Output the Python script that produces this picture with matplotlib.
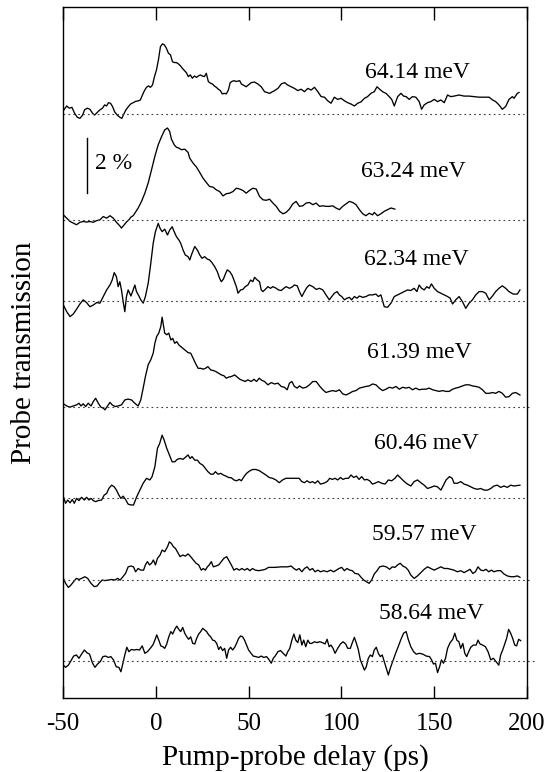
import numpy as np
import matplotlib
matplotlib.use("Agg")
import matplotlib.pyplot as plt

plt.rcParams['font.family'] = ['Liberation Serif', 'DejaVu Serif']
plt.rcParams['mathtext.fontset'] = 'stix'

# photon energies of the pump (labels of the traces)
etiquetas = ["64.14 meV", "63.24 meV", "62.34 meV", "61.39 meV",
             "60.46 meV", "59.57 meV", "58.64 meV"]

# vertical offset of every trace (in % of transmission)
offsets = [21.24, 17.38, 14.44, 10.60, 7.26, 4.29, 1.345]

# delay (ps) and change of transmission (%) for every trace
t64_x = [-49.5, -48.0, -46.6, -45.2, -43.7, -42.3, -40.9, -39.4, -38.4, -36.9, -35.5, -34.0, -33.0, -31.6,
         -30.1, -28.7, -27.6, -26.5, -25.5, -24.4, -23.3, -22.2, -20.8, -19.4, -18.3, -17.2, -16.1, -15.1,
         -13.6, -12.2, -10.8, -9.3, -8.3, -7.2, -6.1, -5.0, -4.0, -2.9, -1.8, -0.7, 0.35, 1.4, 2.5, 3.6,
         4.65, 5.7, 6.8, 7.9, 9.0, 10.0, 11.1, 12.2, 13.3, 14.3, 15.4, 16.5, 17.5, 18.6, 19.7, 20.8, 21.9,
         22.9, 24.0, 25.1, 26.2, 27.2, 28.3, 29.4, 30.5, 31.5, 32.6, 33.7, 34.8, 35.8, 36.9, 38.0, 39.1,
         40.1, 41.2, 42.3, 43.4, 45.2, 46.1, 48.7, 51.4, 53.2, 55.0, 56.8, 58.6, 61.3, 64.0, 65.8, 67.6,
         69.4, 71.1, 72.9, 74.7, 76.5, 78.3, 80.1, 81.9, 83.7, 85.5, 87.3, 89.1, 90.9, 92.6, 94.4, 96.2,
         98.0, 99.8, 101.6, 103.4, 105.2, 107.0, 108.8, 110.6, 112.4, 114.1, 115.9, 117.7, 119.2, 120.6,
         122.2, 124.0, 125.8, 127.1, 128.5, 130.3, 132.1, 133.5, 134.9, 136.5, 138.3, 140.1, 141.9, 143.2,
         144.6, 146.4, 148.2, 150.0, 151.8, 153.6, 155.4, 157.2, 158.9, 160.7, 163.4, 166.1, 168.8, 171.5,
         174.2, 176.9, 179.6, 181.4, 183.1, 184.9, 186.7, 188.5, 190.3, 192.1, 193.0, 194.8, 195.7]
t64_y = [0.15, 0.29, 0.21, 0.24, 0.02, -0.12, -0.16, -0.04, 0.15, 0.21, 0.17, 0.02, -0.04, 0.05,
         0.15, 0.21, 0.33, 0.29, 0.41, 0.39, 0.27, 0.08, -0.04, -0.12, -0.16, 0.00, 0.15, 0.24,
         0.36, 0.41, 0.46, 0.48, 0.51, 0.69, 0.85, 0.97, 1.02, 0.97, 1.05, 1.36, 1.60, 1.96, 2.45, 2.55,
         2.51, 2.39, 2.21, 2.15, 1.90, 1.87, 1.87, 1.82, 1.75, 1.66, 1.58, 1.50, 1.36, 1.42, 1.30, 1.38, 1.33,
         1.38, 1.42, 1.38, 1.36, 1.48, 1.18, 1.12, 1.09, 1.02, 0.97, 0.90, 0.85, 0.73, 0.75, 0.73, 0.87,
         1.14, 1.19, 1.21, 1.18, 1.21, 1.09, 0.99, 1.14, 1.16, 1.09, 0.99, 0.81, 0.75, 0.85, 0.93, 1.09,
         1.14, 1.05, 0.99, 0.93, 0.85, 0.90, 0.81, 0.93, 0.87, 0.97, 0.81, 0.63, 0.61, 0.48, 0.39, 0.61,
         0.53, 0.57, 0.48, 0.41, 0.36, 0.29, 0.39, 0.44, 0.57, 0.63, 0.75, 0.81, 0.99, 0.90,
         0.81, 0.75, 0.63, 0.53, 0.29, 0.63, 0.75, 0.65, 0.63, 0.53, 0.63, 0.61, 0.45, 0.17,
         0.33, 0.41, 0.45, 0.53, 0.45, 0.51, 0.41, 0.69, 0.63, 0.65, 0.69, 0.65, 0.65, 0.63,
         0.61, 0.61, 0.61, 0.51, 0.45, 0.33, 0.17, 0.27, 0.53, 0.63, 0.57, 0.75, 0.78]

t63_x = [-49.8, -48.0, -46.2, -44.4, -42.7, -40.9, -39.1, -37.3, -35.5, -33.7, -31.9, -30.1, -28.3, -26.5,
         -24.7, -22.9, -21.2, -19.4, -18.5, -17.0, -15.8, -14.5, -13.4, -12.2, -11.3, -9.5, -7.7, -5.9,
         -4.1, -2.3, -0.5, 1.3, 3.0, 4.8, 6.3, 7.5, 8.4, 9.9, 11.1, 12.4, 13.8, 15.6, 17.4, 18.3, 20.1,
         21.9, 23.7, 25.4, 27.2, 29.0, 30.8, 32.6, 34.4, 36.2, 38.0, 39.8, 41.6, 43.4, 45.2, 46.9, 48.7,
         50.5, 52.3, 54.1, 55.9, 57.7, 59.5, 61.3, 63.1, 64.9, 66.7, 68.5, 70.2, 72.0, 73.8, 75.6, 77.4,
         79.2, 81.0, 82.8, 84.6, 86.4, 88.2, 90.0, 91.7, 93.5, 95.3, 97.1, 98.9, 100.7, 102.5, 104.3,
         106.1, 107.9, 109.7, 111.5, 113.2, 115.0, 116.8, 117.7, 119.5, 121.3, 123.1, 124.9, 126.7, 128.8]
t63_y = [0.19, 0.07, -0.05, -0.11, -0.17, -0.08, -0.05, -0.07, -0.05, -0.08, -0.02, 0.01, 0.13, 0.07,
         0.16, 0.07, -0.08, -0.21, -0.29, -0.17, -0.07, 0.01, 0.11, 0.16, 0.25, 0.44, 0.68, 0.98,
         1.35, 1.83, 2.32, 2.74, 3.02, 3.28, 3.35, 3.22, 2.95, 2.74, 2.65, 2.62, 2.56, 2.58, 2.46, 2.25, 2.07,
         1.93, 1.73, 1.53, 1.37, 1.22, 1.20, 1.10, 1.04, 0.88, 0.96, 0.98, 1.04, 1.16, 1.13, 1.08, 0.98,
         1.08, 1.16, 1.13, 0.86, 0.74, 0.72, 0.76, 0.62, 0.50, 0.32, 0.23, 0.28, 0.40, 0.59, 0.68, 0.50,
         0.52, 0.62, 0.64, 0.56, 0.62, 0.50, 0.52, 0.50, 0.50, 0.52, 0.44, 0.38, 0.50, 0.59, 0.68,
         0.64, 0.56, 0.38, 0.23, 0.16, 0.25, 0.19, 0.28, 0.16, 0.23, 0.32, 0.38, 0.44, 0.40]

t62_x = [-49.8, -48.0, -46.2, -44.4, -42.7, -40.9, -39.1, -37.3, -35.5, -33.7, -31.9, -30.1, -28.3, -26.5,
         -24.7, -23.5, -22.4, -21.2, -20.3, -19.4, -18.5, -17.6, -16.7, -15.8, -14.9, -13.4, -12.2, -11.3,
         -10.4, -9.1, -8.1, -6.8, -5.6, -4.1, -2.7, -1.4, -0.2, 1.3, 2.3, 3.4, 4.8, 6.3, 7.5, 8.8, 9.9,
         11.1, 12.4, 13.4, 14.7, 15.9, 17.4, 18.3, 19.5, 21.0, 22.4, 23.7, 24.9, 26.3, 27.8, 29.0, 30.3,
         31.7, 33.1, 34.4, 35.3, 36.4, 37.5, 38.5, 39.8, 41.0, 42.1, 43.4, 44.3, 45.7, 46.9, 48.2, 49.6,
         51.1, 52.3, 53.2, 54.7, 55.9, 56.8, 57.7, 59.0, 60.4, 61.8, 63.1, 64.9, 66.1, 67.6, 69.0, 70.2,
         72.0, 73.3, 74.7, 76.2, 77.4, 78.7, 80.1, 81.5, 82.8, 84.6, 86.4, 88.2, 90.0, 91.7, 93.5, 94.8,
         96.2, 97.7, 98.9, 100.2, 101.6, 103.0, 104.3, 105.5, 107.0, 108.4, 109.7, 111.5, 113.2, 115.0,
         116.8, 118.6, 119.9, 121.3, 123.1, 124.9, 126.7, 128.5, 130.3, 132.1, 133.9, 135.6, 137.4, 139.2,
         140.7, 141.9, 143.2, 144.6, 146.0, 147.3, 148.5, 150.0, 151.8, 153.6, 155.4, 157.2, 158.6, 159.9,
         161.6, 163.4, 165.2, 167.0, 168.8, 170.6, 172.4, 174.2, 176.0, 177.8, 179.6, 181.4, 183.1, 184.9,
         186.7, 188.5, 190.3, 192.6, 194.8, 196.2]
t62_y = [-0.15, -0.39, -0.57, -0.47, -0.30, -0.11, 0.04, -0.06, -0.21, -0.15, -0.06, -0.08, 0.16, 0.40,
         0.58, 0.76, 1.03, 0.88, 0.52, 0.70, 0.40, -0.02, -0.39, 0.16, 0.40, 0.18, 0.40, 0.58,
         0.34, 0.18, 0.04, -0.08, 0.16, 0.64, 1.37, 2.10, 2.52, 2.82, 2.64, 2.52, 2.61, 2.40, 2.58, 2.70, 2.52,
         2.34, 2.22, 2.10, 1.85, 1.67, 1.61, 1.49, 1.73, 1.98, 1.85, 1.67, 1.55, 1.61, 1.52, 1.49, 1.39,
         1.25, 1.07, 0.82, 0.70, 0.79, 0.98, 1.13, 1.07, 0.95, 0.76, 0.52, 0.28, 0.40, 0.42, 0.52, 0.58,
         0.76, 0.70, 0.86, 0.76, 0.70, 0.40, 0.34, 0.42, 0.52, 0.46, 0.52, 0.46, 0.40, 0.38, 0.46, 0.52,
         0.46, 0.50, 0.58, 0.55, 0.34, 0.16, 0.34, 0.50, 0.58, 0.52, 0.42, 0.46, 0.40, 0.22, 0.04, 0.16,
         0.28, 0.34, 0.22, 0.16, 0.04, 0.10, 0.13, 0.04, 0.16, 0.10, 0.18, 0.13, 0.16, 0.22,
         0.22, 0.25, 0.16, 0.22, -0.21, -0.23, -0.08, 0.16, 0.22, 0.28, 0.34, 0.40, 0.38, 0.46,
         0.34, 0.58, 0.46, 0.40, 0.52, 0.46, 0.62, 0.46, 0.34, 0.28, 0.22, 0.16, 0.10, -0.11,
         0.04, 0.16, -0.02, -0.27, -0.08, 0.04, 0.22, 0.34, 0.34, 0.28, 0.04, 0.18, 0.34, 0.46,
         0.55, 0.46, 0.34, 0.25, 0.25, 0.40]

t61_x = [-49.8, -48.0, -46.2, -44.4, -42.7, -41.4, -40.3, -39.1, -37.8, -36.4, -34.9, -33.7, -32.4, -31.0,
         -29.6, -28.3, -27.4, -26.0, -24.7, -23.5, -22.0, -20.3, -18.5, -16.7, -14.9, -13.1, -11.3, -9.5,
         -8.1, -6.8, -5.6, -4.1, -2.7, -1.4, -0.5, 0.5, 1.6, 2.7, 3.4, 4.1, 4.8, 5.9, 7.0, 8.1, 9.1, 10.2,
         11.3, 12.4, 13.8, 15.6, 17.4, 18.8, 20.1, 21.3, 22.8, 24.2, 25.6, 26.7, 28.1, 29.6, 31.0, 32.4,
         33.9, 35.3, 36.7, 38.0, 39.2, 40.7, 42.5, 43.9, 45.3, 46.8, 48.2, 49.6, 51.4, 52.9, 54.3, 55.7,
         57.2, 58.6, 60.4, 62.2, 64.0, 65.8, 67.6, 69.3, 70.8, 72.0, 73.3, 74.7, 76.2, 77.4, 79.2, 81.0,
         82.8, 84.6, 86.4, 88.2, 90.0, 91.7, 93.5, 95.3, 97.1, 98.9, 100.7, 102.5, 104.3, 106.1, 107.9,
         109.7, 111.5, 113.2, 115.0, 116.8, 118.6, 120.4, 122.2, 124.0, 125.8, 127.6, 129.4, 131.2, 133.0,
         134.8, 136.5, 138.3, 140.1, 141.9, 143.7, 145.5, 147.3, 149.1, 150.9, 152.7, 154.5, 156.3, 158.1,
         159.9, 161.6, 163.4, 165.2, 167.0, 168.8, 170.6, 172.4, 174.2, 176.0, 177.8, 179.6, 181.4, 183.1,
         184.9, 186.7, 188.5, 190.3, 192.1, 193.9, 196.2]
t61_y = [0.10, 0.02, -0.02, 0.02, 0.06, 0.12, 0.02, 0.10, 0.00, 0.12, 0.02, 0.18, 0.30, 0.12,
         -0.02, -0.06, -0.12, 0.02, 0.15, 0.06, 0.00, 0.02, 0.06, 0.24, 0.27, 0.24, 0.12, 0.02,
         0.24, 0.67, 1.09, 1.52, 1.70, 1.94, 2.30, 2.55, 2.67, 2.91, 3.25, 2.97, 2.67, 2.61, 2.67, 2.42, 2.48, 2.30,
         2.36, 2.24, 2.16, 2.06, 1.96, 1.94, 1.76, 1.58, 1.39, 1.39, 1.36, 1.39, 1.45, 1.33, 1.31, 1.27,
         1.21, 1.15, 1.12, 1.03, 1.07, 1.09, 1.15, 1.07, 0.99, 0.95, 0.91, 0.97, 0.91, 0.99, 0.91, 1.03,
         0.95, 0.91, 0.79, 0.87, 0.82, 0.85, 0.73, 0.70, 0.61, 0.85, 0.91, 0.73, 0.67, 0.75, 0.67, 0.70,
         0.79, 0.91, 0.91, 0.75, 0.61, 0.51, 0.55, 0.58, 0.55, 0.61, 0.46, 0.42, 0.48, 0.55, 0.58,
         0.67, 0.70, 0.73, 0.75, 0.82, 0.79, 0.67, 0.58, 0.63, 0.70, 0.67, 0.73, 0.63, 0.70,
         0.67, 0.70, 0.61, 0.67, 0.61, 0.63, 0.63, 0.67, 0.61, 0.58, 0.55, 0.58, 0.55, 0.55,
         0.63, 0.67, 0.70, 0.75, 0.79, 0.79, 0.75, 0.73, 0.70, 0.61, 0.48, 0.48, 0.51, 0.48,
         0.55, 0.48, 0.34, 0.36, 0.48, 0.51, 0.42]

t60_x = [-49.8, -48.6, -47.5, -46.2, -45.0, -43.9, -42.7, -41.4, -40.0, -38.5, -37.3, -36.0, -34.9, -33.7,
         -32.4, -31.0, -29.2, -27.8, -26.5, -25.3, -23.8, -22.4, -21.2, -19.9, -18.8, -17.6, -16.3, -14.9,
         -13.4, -12.0, -10.4, -8.6, -6.8, -5.0, -3.2, -2.0, -0.5, 0.9, 2.1, 3.4, 4.5, 5.9, 7.3, 8.8, 10.2,
         11.6, 13.1, 14.7, 15.9, 17.4, 18.5, 19.5, 21.0, 22.4, 23.8, 25.3, 26.7, 28.1, 29.6, 31.0, 32.1,
         33.5, 35.0, 36.4, 37.8, 39.2, 40.7, 42.1, 43.5, 45.0, 46.1, 47.5, 48.9, 50.4, 52.1, 53.9, 55.7,
         57.5, 59.3, 61.1, 62.9, 64.7, 66.5, 68.3, 70.1, 71.9, 73.6, 75.4, 77.2, 78.7, 80.1, 81.5, 83.0,
         84.4, 85.8, 87.3, 88.7, 90.5, 92.3, 93.7, 95.1, 96.6, 98.0, 99.5, 100.9, 102.3, 103.8, 105.2,
         106.6, 108.1, 109.5, 110.9, 112.4, 113.8, 115.2, 116.7, 118.1, 119.9, 121.7, 123.5, 125.3, 127.1,
         128.8, 130.3, 132.1, 133.9, 135.6, 137.4, 139.2, 141.0, 142.8, 144.6, 146.4, 148.2, 150.0, 151.8,
         153.6, 155.0, 156.4, 158.2, 159.7, 160.7, 162.5, 164.3, 166.1, 167.9, 169.7, 171.5, 173.3, 175.1,
         176.9, 178.7, 180.5, 182.2, 184.0, 185.8, 187.6, 189.4, 191.2, 193.0, 196.2]
t60_y = [0.06, -0.18, -0.06, -0.16, -0.04, -0.18, 0.00, -0.08, 0.04, -0.06, 0.04, -0.06, 0.00, -0.08,
         -0.12, -0.08, -0.06, 0.12, 0.18, 0.36, 0.48, 0.42, 0.30, 0.12, 0.00, 0.08, -0.04, -0.21,
         -0.24, -0.24, 0.04, 0.30, 0.55, 0.73, 0.67, 0.79, 1.15, 1.82, 2.00, 2.30, 2.12, 1.82, 1.58, 1.33, 1.33,
         1.42, 1.45, 1.42, 1.49, 1.58, 1.45, 1.52, 1.39, 1.39, 1.27, 1.21, 1.09, 0.97, 0.88, 0.88, 0.97,
         0.88, 0.91, 0.85, 0.81, 0.76, 0.75, 0.67, 0.64, 0.69, 0.64, 0.79, 0.91, 0.99, 1.05, 1.05, 1.01,
         0.93, 0.85, 0.76, 0.73, 0.67, 0.57, 0.67, 0.73, 0.73, 0.73, 0.73, 0.73, 0.61, 0.57, 0.64, 0.57,
         0.61, 0.55, 0.64, 0.52, 0.55, 0.61, 0.73, 0.69, 0.73, 0.67, 0.76, 0.69, 0.73, 0.73, 0.85,
         0.76, 0.81, 0.69, 0.79, 0.67, 0.69, 0.64, 0.52, 0.55, 0.61, 0.55, 0.52, 0.67, 0.64,
         0.73, 0.85, 0.73, 0.61, 0.52, 0.45, 0.61, 0.67, 0.57, 0.48, 0.36, 0.40, 0.45, 0.42,
         0.30, 0.48, 0.67, 0.79, 0.73, 0.55, 0.55, 0.61, 0.52, 0.48, 0.42, 0.36, 0.33, 0.36,
         0.30, 0.30, 0.36, 0.45, 0.48, 0.40, 0.45, 0.40, 0.48, 0.45, 0.48]

t59_x = [-49.8, -48.6, -47.1, -45.7, -44.3, -42.8, -41.4, -40.0, -38.2, -36.7, -34.9, -33.2, -31.7, -30.3,
         -28.9, -27.4, -25.6, -23.8, -22.0, -20.6, -19.2, -17.7, -16.3, -14.9, -13.4, -12.0, -10.9, -9.5,
         -8.1, -6.6, -5.6, -4.5, -3.4, -2.3, -1.3, -0.2, 0.9, 2.3, 3.4, 4.8, 6.3, 7.3, 8.4, 9.5, 10.6,
         11.6, 13.1, 14.5, 15.9, 17.4, 18.8, 20.2, 21.7, 23.1, 24.5, 25.6, 26.7, 27.8, 28.8, 29.9, 31.0,
         32.4, 33.9, 35.3, 36.7, 38.2, 39.2, 40.7, 42.1, 43.5, 45.0, 46.4, 47.8, 49.3, 50.7, 52.1, 53.6,
         55.4, 57.2, 59.0, 60.7, 64.0, 67.6, 71.1, 72.9, 74.4, 75.8, 77.2, 78.7, 80.1, 81.5, 83.0, 84.4,
         85.8, 87.3, 88.7, 90.5, 92.3, 94.1, 95.9, 97.3, 98.7, 100.2, 101.6, 103.0, 104.5, 105.9, 107.3,
         109.1, 110.6, 112.0, 113.4, 114.9, 116.3, 117.7, 119.2, 120.6, 122.4, 124.2, 126.0, 127.4, 128.8,
         130.3, 131.7, 133.1, 134.6, 136.0, 137.4, 139.2, 141.0, 142.8, 144.6, 146.4, 148.2, 150.0, 151.8,
         153.6, 155.4, 157.2, 158.9, 160.7, 162.5, 164.3, 166.1, 167.9, 169.3, 170.8, 172.2, 173.6, 175.1,
         176.5, 177.9, 179.4, 180.8, 182.2, 184.0, 185.8, 187.6, 189.4, 191.2, 193.0, 194.8, 196.2]
t59_y = [0.06, -0.12, -0.27, -0.18, -0.06, 0.06, 0.02, 0.06, 0.12, 0.06, -0.12, -0.24, -0.22, -0.10,
         0.00, -0.02, 0.00, 0.02, 0.00, 0.06, 0.00, 0.12, 0.24, 0.48, 0.51, 0.48, 0.30, 0.42,
         0.36, 0.36, 0.55, 0.67, 0.55, 0.61, 0.73, 0.55, 0.79, 0.91, 1.09, 1.03, 1.21, 1.39, 1.33, 1.21, 1.15,
         1.03, 0.85, 0.91, 0.87, 0.95, 0.85, 0.73, 0.61, 0.55, 0.36, 0.42, 0.36, 0.48, 0.55, 0.67, 0.48,
         0.51, 0.55, 0.67, 0.79, 0.85, 0.73, 0.55, 0.36, 0.42, 0.36, 0.42, 0.36, 0.42, 0.34, 0.42, 0.36,
         0.34, 0.36, 0.39, 0.46, 0.46, 0.48, 0.48, 0.51, 0.42, 0.36, 0.42, 0.30, 0.42, 0.48, 0.36, 0.42,
         0.30, 0.36, 0.30, 0.34, 0.30, 0.36, 0.30, 0.36, 0.42, 0.46, 0.34, 0.42, 0.36, 0.34, 0.24,
         0.22, 0.10, 0.00, -0.06, -0.12, 0.00, 0.22, 0.34, 0.48, 0.51, 0.48, 0.39, 0.48, 0.46,
         0.55, 0.61, 0.51, 0.46, 0.36, 0.18, 0.06, 0.15, 0.27, 0.39, 0.48, 0.42, 0.36, 0.42,
         0.48, 0.42, 0.42, 0.39, 0.36, 0.30, 0.34, 0.27, 0.34, 0.39, 0.24, 0.30, 0.48, 0.36,
         0.34, 0.39, 0.30, 0.36, 0.30, 0.34, 0.34, 0.22, 0.15, 0.12, 0.12, 0.15, 0.10]

t58_x = [-49.8, -48.6, -47.1, -45.7, -44.3, -42.8, -41.4, -40.0, -38.5, -37.1, -35.7, -34.2, -32.8, -31.4,
         -29.9, -28.5, -27.1, -25.6, -24.2, -22.8, -21.3, -19.9, -18.8, -17.7, -16.7, -15.6, -14.5, -13.1,
         -11.7, -10.2, -8.8, -7.3, -5.9, -4.5, -3.0, -1.6, -0.5, 0.5, 1.6, 2.7, 3.8, 4.8, 5.9, 7.0, 8.1,
         9.1, 10.2, 11.3, 12.4, 13.4, 14.5, 15.6, 16.7, 17.7, 18.8, 19.9, 21.0, 22.0, 23.1, 24.2, 25.3,
         26.3, 27.4, 28.5, 29.6, 30.6, 31.7, 32.8, 33.9, 34.9, 36.0, 37.1, 38.2, 39.2, 40.3, 41.4, 42.5,
         43.5, 44.6, 45.7, 46.8, 47.8, 48.9, 50.0, 51.1, 52.5, 53.9, 55.4, 56.8, 58.2, 59.7, 61.1, 62.2,
         63.3, 64.3, 65.8, 67.2, 68.6, 70.1, 71.1, 72.2, 73.3, 74.4, 75.4, 76.5, 77.6, 78.7, 79.7, 80.8,
         81.9, 83.0, 84.0, 85.5, 86.9, 88.3, 89.8, 91.2, 92.3, 93.4, 94.4, 95.5, 96.6, 98.0, 99.5, 100.9,
         102.3, 103.4, 104.8, 105.9, 107.0, 108.1, 109.1, 110.2, 111.3, 112.4, 113.4, 114.5, 115.6, 116.7,
         117.7, 118.8, 119.9, 121.0, 122.0, 123.1, 124.2, 125.3, 126.3, 127.8, 129.2, 130.6, 132.1, 133.5,
         134.9, 136.0, 137.4, 138.9, 140.3, 142.1, 143.9, 145.7, 147.5, 148.6, 149.6, 150.7, 151.8, 152.9,
         153.9, 155.0, 156.1, 157.2, 158.6, 160.0, 161.1, 162.2, 163.3, 164.3, 165.4, 166.5, 167.5, 168.6,
         169.7, 171.1, 172.6, 173.6, 174.7, 176.1, 177.6, 179.0, 180.5, 181.9, 183.3, 184.8, 185.8, 186.9,
         188.0, 189.0, 190.1, 191.2, 192.3, 193.4, 194.4, 195.5, 196.6]
t58_y = [-0.15, -0.23, -0.15, 0.01, 0.18, 0.22, 0.10, 0.25, 0.40, 0.30, 0.25, -0.06, -0.23, -0.11,
         -0.02, 0.16, 0.18, 0.13, 0.16, 0.04, -0.21, -0.23, -0.39, -0.08, 0.22, 0.50, 0.34, 0.42,
         0.40, 0.42, 0.40, 0.55, 0.28, 0.34, 0.46, 0.58, 0.76, 0.95, 0.76, 0.55, 0.52, 0.46, 0.62, 0.88, 1.07,
         0.98, 1.15, 1.27, 1.15, 1.07, 1.22, 1.01, 0.88, 0.79, 0.88, 0.64, 0.62, 0.82, 0.98, 1.07, 1.19,
         1.13, 1.07, 0.95, 0.88, 0.76, 0.74, 0.64, 0.42, 0.52, 0.38, 0.46, 0.10, 0.40, 0.50, 0.40, 0.50,
         0.64, 0.82, 0.91, 0.88, 0.76, 0.58, 0.40, 0.30, 0.18, 0.16, 0.13, 0.18, 0.13, 0.16, 0.04, -0.08,
         0.10, 0.18, 0.34, 0.38, 0.28, 0.18, 0.34, 0.46, 0.76, 0.98, 0.76, 0.67, 0.95, 0.58, 0.76, 0.52,
         0.76, 0.64, 0.64, 0.70, 0.67, 0.70, 0.67, 0.62, 0.79, 0.52, 0.58, 0.46, 0.28, 0.46, 0.62, 0.70,
         0.62, 0.46, 0.46, 0.67, 0.86, 0.64, 0.42, 0.04, -0.15, -0.33, -0.21, 0.10, 0.22, 0.16,
         0.40, 0.50, 0.28, 0.16, 0.22, -0.02, -0.27, -0.51, -0.27, 0.01, 0.28, 0.52, 0.79, 1.01,
         1.07, 0.79, 0.52, 0.34, 0.25, 0.28, 0.25, 0.18, 0.16, 0.04, -0.11, -0.08, -0.42, -0.21,
         0.04, -0.08, 0.10, 0.46, 0.67, 0.79, 1.01, 0.76, 0.70, 0.46, 0.64, 0.28, 0.16, 0.34,
         0.50, 0.58, 0.58, 0.76, 0.62, 0.58, 0.52, 0.34, 0.04, 0.10, -0.02, -0.15, 0.22, 0.40,
         0.62, 0.82, 1.15, 1.01, 0.82, 0.58, 0.55, 0.79, 0.74]

trazas = [(t64_x, t64_y), (t63_x, t63_y), (t62_x, t62_y), (t61_x, t61_y),
          (t60_x, t60_y), (t59_x, t59_y), (t58_x, t58_y)]

# end of every dotted zero line (ps), some run past the frame
fin_cero = [198.5, 200, 200, 201, 200, 202.5, 205]
# where the energy labels sit (ps, %)
pos_etiq = [(140.9, 22.76), (138.7, 19.16), (140.3, 15.96), (141.9, 12.58),
            (145.7, 9.27), (144.6, 5.93), (148.4, 3.09)]

fig = plt.figure(figsize=(5.5, 7.72), dpi=100)
ax = fig.add_axes([63/550, 1-698/772, 464/550, 691/772])

for (tx, ty), off, fin, lab, (lx, ly) in zip(trazas, offsets, fin_cero, etiquetas, pos_etiq):
    ax.plot(tx, np.array(ty) + off, color="black", lw=0.95)
    ax.plot([-50, fin], [off, off], color="#444444", lw=0.8,
            linestyle=(0, (1.6, 2.8)), clip_on=False)
    ax.text(lx, ly, lab, ha="center", va="center", fontsize=17)

# barra de escala de 2 %
ax.plot([-37.3, -37.3], [18.36, 20.36], color="black", lw=1.0)
ax.text(-32.8, 19.45, "2 %", ha="left", va="center", fontsize=17)

ax.set_xlim(-50, 200)
ax.set_ylim(0, 25.13)
ax.set_xticks([-50, 0, 50, 100, 150, 200])
ax.set_xticklabels(["-50", "0", "50", "100", "150", "200"])
ax.set_yticks([])
ax.tick_params(axis="x", direction="in", length=9, width=1.0, top=True,
               labelsize=18, pad=11)
for s in ax.spines.values():
    s.set_linewidth(1.0)

ax.set_xlabel("Pump-probe delay (ps)", fontsize=21, labelpad=6)
ax.set_ylabel("Probe transmission", fontsize=21, labelpad=19)

fig.savefig("out.png", dpi=100)
